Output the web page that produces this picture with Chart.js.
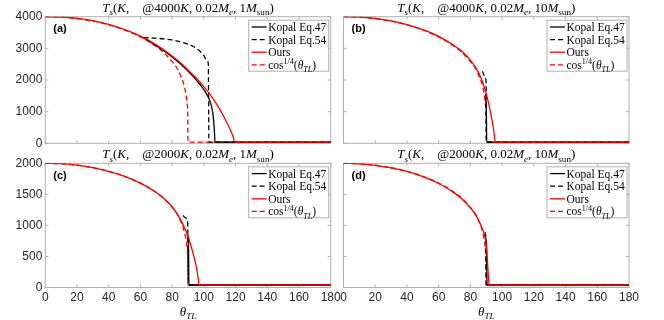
<!DOCTYPE html>
<html>
<head>
<meta charset="utf-8">
<script src="https://cdn.jsdelivr.net/npm/chart.js@4.4.1/dist/chart.umd.min.js"></script>
<style>
  html, body { margin: 0; padding: 0; background: #fff; }
  #wrap { position: relative; width: 664px; height: 320px; }
  canvas { position: absolute; left: 0; top: 0; }
</style>
</head>
<body>
<div id="wrap">
  <canvas id="pa" width="664" height="320"></canvas>
  <canvas id="pb" width="664" height="320"></canvas>
  <canvas id="pc" width="664" height="320"></canvas>
  <canvas id="pd" width="664" height="320"></canvas>
</div>
<script>
// tick labels
var xTicks = [0, 20, 40, 60, 80, 100, 120, 140, 160, 180];
var yTicks4000 = [0, 1000, 2000, 3000, 4000];
var yTicks2000 = [0, 500, 1000, 1500, 2000];
var names = ["Kopal Eq.47", "Kopal Eq.54", "Ours"];

// [theta_TL (deg), T_s (K)]
// (a) 4000K, 1 Msun
var a_k47 = [[62,3330],[70,3080],[80,2730],[85,2520],[90,2280],[95,2010],[100,1700],[103,1440],[104.5,1230],[105.5,1000],[106.2,700],[106.7,350],[107,40],[180,40]];
var a_k54 = [[62,3340],[70,3320],[80,3265],[85,3210],[90,3135],[95,3010],[98,2890],[100,2770],[102,2610],[102.8,2520],[103.2,40],[180,40]];
var a_ours = [[0,4000],[10,3990],[20,3950],[30,3875],[40,3755],[50,3590],[60,3385],[70,3110],[80,2760],[85,2550],[90,2320],[95,2070],[100,1790],[105,1470],[110,1080],[113,800],[115,600],[117,390],[118.5,200],[119.3,40],[180,40]];
var a_cos = [[0,4000],[10,3985],[20,3937],[30,3858],[40,3742],[50,3581],[60,3364],[70,3058],[75,2853],[80,2582],[83,2380],[85,2173],[87,1924],[88,1730],[89,1458],[89.5,1226],[89.8,980],[90,40],[180,40]];
// (b) 4000K, 10 Msun
var b_k47 = [[89.6,1560],[90.1,900],[90.3,40],[180,40]];
var b_k54 = [[87.6,2280],[89,2120],[89.9,1950],[90.1,40],[180,40]];
var b_ours = [[0,4000],[10,3990],[20,3945],[30,3865],[40,3750],[50,3590],[60,3380],[70,3080],[75,2890],[80,2630],[85,2250],[88,1900],[90,1560],[92,1150],[93,900],[94,620],[95,300],[95.6,40],[180,40]];
var b_cos = [[0,4000],[10,3985],[20,3937],[30,3858],[40,3742],[50,3581],[60,3364],[70,3058],[75,2853],[80,2582],[83,2380],[85,2173],[87,1924],[88,1730],[89,1458],[89.5,1226],[89.8,980],[90,40],[180,40]];
// (c) 2000K, 1 Msun
var c_k47 = [[89.3,870],[90.3,720],[90.6,40],[180,40]];
var c_k54 = [[86.8,1160],[88.5,1120],[89.8,1040],[90.1,40],[180,40]];
var c_ours = [[0,2000],[10,1994],[20,1970],[30,1930],[40,1870],[50,1790],[60,1680],[70,1530],[75,1430],[80,1300],[85,1110],[88,950],[90,830],[92,660],[94,470],[95.5,300],[96.5,130],[96.9,40],[180,40]];
var c_cos = [[0,2000],[10,1992],[20,1969],[30,1929],[40,1871],[50,1791],[60,1682],[70,1529],[75,1426],[80,1291],[83,1190],[85,1087],[87,962],[88,865],[89,729],[89.5,613],[89.8,490],[90,40],[180,40]];
// (d) 2000K, 10 Msun
var d_k47 = [[89.4,820],[90.2,640],[90.5,40],[180,40]];
var d_k54 = [[89,890],[89.7,810],[89.9,40],[180,40]];
var d_ours = [[0,2000],[10,1992],[20,1968],[30,1927],[40,1868],[50,1786],[60,1675],[70,1520],[75,1418],[80,1283],[84,1140],[86,1040],[88,915],[89,830],[90,690],[90.6,480],[91.1,280],[91.6,110],[91.9,40],[180,40]];
var d_cos = [[0,2000],[10,1992],[20,1969],[30,1929],[40,1871],[50,1791],[60,1682],[70,1529],[75,1426],[80,1291],[83,1190],[85,1087],[87,962],[88,865],[89,729],[89.5,613],[89.8,490],[90,40],[180,40]];

var SERIF = "'Liberation Serif', 'DejaVu Serif', serif";
var SANS = "'Liberation Sans', Arial, sans-serif";
var RED = "#ff0000";

function pts(arr) { return arr.map(function (p) { return { x: p[0], y: p[1] }; }); }

// draw a run of text pieces: {t, i: italic, s: 'sub'|'sup'}
function rich(ctx, segs, x, y, size, align) {
  var w = 0;
  segs.forEach(function (g) {
    var fs = g.s ? size * 0.7 : size;
    ctx.font = (g.i ? "italic " : "") + fs + "px " + SERIF;
    g.w = ctx.measureText(g.t).width;
    w += g.w;
  });
  var cx = align === "center" ? x - w / 2 : x;
  ctx.textBaseline = "alphabetic";
  ctx.textAlign = "left";
  segs.forEach(function (g) {
    var fs = g.s ? size * 0.7 : size;
    ctx.font = (g.i ? "italic " : "") + fs + "px " + SERIF;
    var dy = g.s === "sub" ? size * 0.28 : (g.s === "sup" ? -size * 0.4 : 0);
    ctx.fillText(g.t, cx, y + dy);
    cx += g.w;
  });
}

function titleSegs(t0, mass) {
  return [
    { t: "T", i: 1 }, { t: "s", i: 1, s: "sub" }, { t: "(" }, { t: "K", i: 1 },
    { t: ",    @" + t0 }, { t: "K", i: 1 }, { t: ", 0.02" }, { t: "M", i: 1 },
    { t: "e", i: 1, s: "sub" }, { t: ", " + mass }, { t: "M", i: 1 },
    { t: "sun", s: "sub" }, { t: ")" }
  ];
}

function deco(p) {
  return {
    id: "deco" + p.tag,
    beforeDatasetsDraw: function (chart) {
      var ctx = chart.ctx, ca = chart.chartArea;
      var xs = chart.scales.x, ys = chart.scales.y;
      ctx.save();
      ctx.strokeStyle = "#b0b0b0";
      ctx.lineWidth = 1;
      ctx.strokeRect(ca.left, ca.top, ca.right - ca.left, ca.bottom - ca.top);
      ctx.beginPath();
      xTicks.forEach(function (v) {
        var px = xs.getPixelForValue(v);
        ctx.moveTo(px, ca.bottom); ctx.lineTo(px, ca.bottom - 3);
        ctx.moveTo(px, ca.top); ctx.lineTo(px, ca.top + 3);
      });
      p.yTicks.forEach(function (v) {
        var py = ys.getPixelForValue(v);
        ctx.moveTo(ca.left, py); ctx.lineTo(ca.left + 3, py);
        ctx.moveTo(ca.right, py); ctx.lineTo(ca.right - 3, py);
      });
      ctx.stroke();

      // tick labels
      ctx.fillStyle = "#262626";
      ctx.font = "12px " + SANS;
      if (p.showX) {
        ctx.textAlign = "center";
        ctx.textBaseline = "top";
        xTicks.forEach(function (v) {
          ctx.fillText(String(v), xs.getPixelForValue(v), ca.bottom + 4.5);
        });
      }
      if (p.showY) {
        ctx.textAlign = "right";
        ctx.textBaseline = "middle";
        p.yTicks.forEach(function (v) {
          ctx.fillText(String(v), ca.left - 3, ys.getPixelForValue(v));
        });
      }
      ctx.restore();
    },
    afterDraw: function (chart) {
      var ctx = chart.ctx, ca = chart.chartArea;
      ctx.save();
      ctx.fillStyle = "#000";
      rich(ctx, titleSegs(p.t0, p.mass), (ca.left + ca.right) / 2, ca.top - 5, 13, "center");

      ctx.font = "bold 11px " + SANS;
      ctx.fillStyle = "#000";
      ctx.textBaseline = "middle";
      ctx.textAlign = "left";
      ctx.fillText("(" + p.tag + ")", ca.left + 8, ca.top + 12.5);

      if (p.showX) {
        rich(ctx, [{ t: "\u03b8", i: 1 }, { t: "TL", i: 1, s: "sub" }], (ca.left + ca.right) / 2, ca.bottom + 28, 13, "center");
      }

      // legend box
      var bw = 80, bh = 51;
      var bx = ca.right - 2 - bw, by = ca.top + 3.5;
      ctx.fillStyle = "#fff";
      ctx.fillRect(bx, by, bw, bh);
      ctx.strokeStyle = "#b0b0b0";
      ctx.lineWidth = 1;
      ctx.strokeRect(bx, by, bw, bh);
      var styles = [
        { c: "#000", d: [] }, { c: "#000", d: [5, 3] },
        { c: RED, d: [] }, { c: RED, d: [5, 3] }
      ];
      styles.forEach(function (s, i) {
        var ry = by + 6.8 + i * 12.6;
        ctx.strokeStyle = s.c;
        ctx.lineWidth = 1.3;
        ctx.setLineDash(s.d);
        ctx.beginPath();
        ctx.moveTo(bx + 3, ry); ctx.lineTo(bx + 18, ry);
        ctx.stroke();
        ctx.setLineDash([]);
        ctx.fillStyle = "#000";
        if (i < 3) {
          rich(ctx, [{ t: names[i] }], bx + 19.5, ry + 4, 11.5, "left");
        } else {
          rich(ctx, [{ t: "cos" }, { t: "1/4", s: "sup" }, { t: "(" }, { t: "\u03b8", i: 1 },
            { t: "TL", i: 1, s: "sub" }, { t: ")" }], bx + 19.5, ry + 4, 11.5, "left");
        }
      });
      ctx.restore();
    }
  };
}

function panel(id, p) {
  var A = p.area;
  return new Chart(document.getElementById(id), {
    type: "line",
    data: {
      datasets: [
        { data: pts(p.k47), borderColor: "#000", order: 2 },
        { data: pts(p.k54), borderColor: "#000", borderDash: [5, 3], order: 3 },
        { data: pts(p.ours), borderColor: RED, order: 1 },
        { data: pts(p.cos), borderColor: RED, borderDash: [5, 3], order: 4 }
      ]
    },
    options: {
      responsive: false,
      animation: false,
      events: [],
      layout: { padding: { left: A[0], top: A[1], right: 664 - A[2], bottom: 320 - A[3] } },
      plugins: { legend: { display: false }, tooltip: { enabled: false } },
      elements: {
        point: { radius: 0 },
        line: { borderWidth: 1.3, cubicInterpolationMode: "monotone", fill: false }
      },
      scales: {
        x: {
          type: "linear", min: 0, max: 180,
          afterFit: function (s) { s.height = 0; },
          grid: { display: false, drawTicks: false },
          border: { display: false },
          ticks: { display: false, stepSize: 20 }
        },
        y: {
          type: "linear", min: 0, max: p.yMax,
          afterFit: function (s) { s.width = 0; },
          grid: { display: false, drawTicks: false },
          border: { display: false },
          ticks: { display: false }
        }
      }
    },
    plugins: [deco(p)]
  });
}

panel("pa", { tag: "a", area: [45.3, 16.7, 330.7, 143.3], k47: a_k47, k54: a_k54, ours: a_ours, cos: a_cos,
  yMax: 4000, yTicks: yTicks4000, t0: "4000", mass: "1", showX: false, showY: true });
panel("pb", { tag: "b", area: [343.5, 16.7, 629, 143.3], k47: b_k47, k54: b_k54, ours: b_ours, cos: b_cos,
  yMax: 4000, yTicks: yTicks4000, t0: "4000", mass: "10", showX: false, showY: false });
panel("pc", { tag: "c", area: [45.3, 163.3, 330.7, 287.5], k47: c_k47, k54: c_k54, ours: c_ours, cos: c_cos,
  yMax: 2000, yTicks: yTicks2000, t0: "2000", mass: "1", showX: true, showY: true });
panel("pd", { tag: "d", area: [343.5, 163.3, 629, 287.5], k47: d_k47, k54: d_k54, ours: d_ours, cos: d_cos,
  yMax: 2000, yTicks: yTicks2000, t0: "2000", mass: "10", showX: true, showY: false });
</script>
</body>
</html>
